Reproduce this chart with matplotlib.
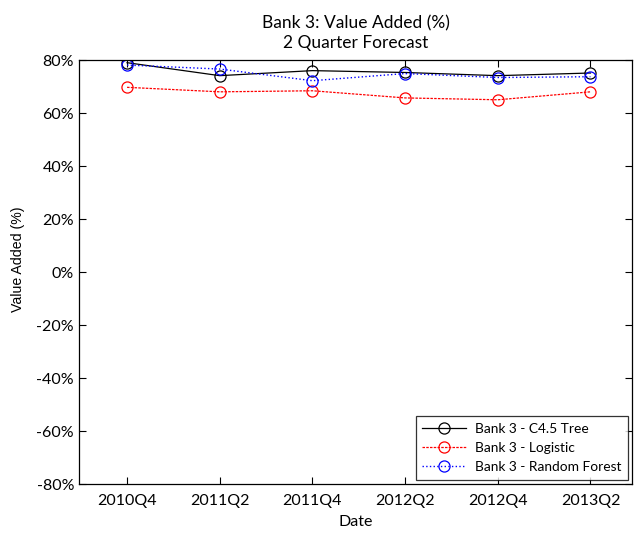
import matplotlib
matplotlib.use('Agg')
import matplotlib.pyplot as plt
from matplotlib.ticker import FuncFormatter

plt.rcParams['font.family'] = ['Lato', 'DejaVu Sans']

quarters = ['2010Q4', '2011Q2', '2011Q4', '2012Q2', '2012Q4', '2013Q2']
c45_tree = [79.0, 74.1, 76.0, 75.3, 74.1, 75.1]
logistic = [69.7, 68.0, 68.4, 65.7, 65.0, 68.0]
random_forest = [78.1, 76.6, 72.2, 74.9, 73.4, 73.7]

fig = plt.figure(figsize=(6.36, 5.35), dpi=100)
ax = fig.add_axes([0.124, 0.0953, 0.870, 0.7925])

x = list(range(1, len(quarters) + 1))
ax.plot(x, c45_tree, color='black', linestyle='-', linewidth=0.9, marker='o',
        markersize=8, markerfacecolor='none', markeredgewidth=0.9, label='Bank 3 - C4.5 Tree')
ax.plot(x, logistic, color='red', linestyle='--', dashes=(2, 1), linewidth=0.9, marker='o',
        markersize=8, markerfacecolor='none', markeredgewidth=0.9, label='Bank 3 - Logistic')
ax.plot(x, random_forest, color='blue', linestyle=':', linewidth=1.0, marker='o',
        markersize=8, markerfacecolor='none', markeredgewidth=0.9, label='Bank 3 - Random Forest')

ax.set_xlim(0.48, 6.45)
ax.set_ylim(-80, 80)
ax.set_xticks(x)
ax.set_xticklabels(quarters)
ax.set_yticks(range(-80, 81, 20))
ax.yaxis.set_major_formatter(FuncFormatter(lambda v, p: f'{int(v)}%'))
ax.tick_params(direction='in', length=5, labelsize=11.5, top=True, right=True, width=0.8)
ax.tick_params(axis='x', pad=7)
for s in ax.spines.values():
    s.set_linewidth(0.9)

ax.set_xlabel('Date', fontsize=11.5, labelpad=5)
ax.set_ylabel('Value Added (%)', fontsize=10.2, family=['Liberation Sans', 'DejaVu Sans'])
ax.yaxis.set_label_coords(-0.098, 0.531)
ax.set_title('Bank 3: Value Added (%)\n2 Quarter Forecast', fontsize=12.5, linespacing=1.25, pad=9)

leg = ax.legend(loc='lower right', fontsize=9.9, frameon=True, fancybox=False,
                edgecolor='black', borderaxespad=0.3, handlelength=3.2, labelspacing=0.5,
                borderpad=0.5, handletextpad=0.6)
leg.get_frame().set_linewidth(0.9)

fig.savefig('out.png', dpi=100)
